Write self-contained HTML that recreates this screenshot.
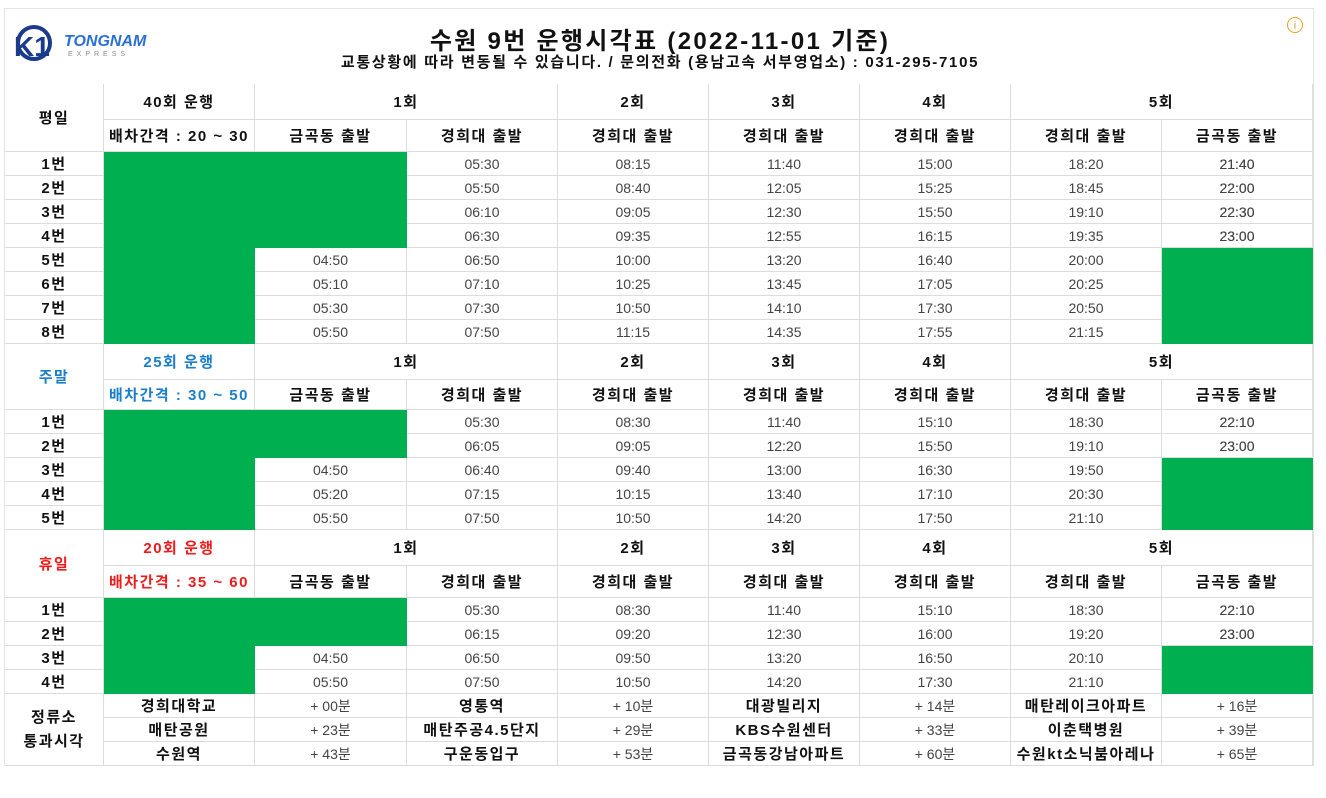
<!DOCTYPE html>
<html><head><meta charset="utf-8">
<style>
body{margin:0;width:1326px;height:798px;background:#fff;position:relative;overflow:hidden;font-family:"Liberation Sans","Noto Sans CJK KR",sans-serif;}
.c{position:absolute;box-sizing:border-box;border-right:1px solid #dcdcdc;border-bottom:1px solid #dcdcdc;display:flex;align-items:center;justify-content:center;font-size:14px;color:#444;}
.b{font-weight:bold;color:#111;font-size:15px;letter-spacing:1.5px}
.g{background:#00b050;border-color:#00b050}
#frame{position:absolute;left:4px;top:8px;width:1310px;height:758px;border:1px solid #e4e4e4;box-sizing:border-box}
</style></head><body>
<div id="frame"></div>
<div style="position:absolute;left:12px;top:24px;width:160px;height:40px">
<svg width="160" height="40"><circle cx="22" cy="19" r="16" fill="none" stroke="#1a3a8a" stroke-width="4"/><text x="2" y="32" font-size="28" font-weight="bold" fill="#1a3a8a" font-family="Liberation Sans">K1</text><text x="52" y="22" font-size="16" font-weight="bold" font-style="italic" fill="#2a6fd6" font-family="Liberation Sans">TONGNAM</text><text x="56" y="32" font-size="7" fill="#888" letter-spacing="4" font-family="Liberation Sans">EXPRESS</text></svg></div>
<div style="position:absolute;left:0;width:1320px;top:21px;text-align:center;font-size:24px;font-weight:bold;color:#111;letter-spacing:2.3px">수원 9번 운행시각표 (2022-11-01 기준)</div>
<div style="position:absolute;left:0;width:1320px;top:51px;text-align:center;font-size:15px;font-weight:bold;color:#111;letter-spacing:1.7px">교통상황에 따라 변동될 수 있습니다. / 문의전화 (용남고속 서부영업소) : 031-295-7105</div>
<div style="position:absolute;left:1287px;top:17px;width:16px;height:16px;border:1.5px solid #e8a020;border-radius:50%;color:#e8a020;font-size:11px;text-align:center;line-height:16px;box-sizing:border-box">i</div>
<div id="t"></div>
<script>
const X=[5,104,255,407,558,709,860,1011,1162,1313];
const weekday=[["05:30","08:15","11:40","15:00","18:20","21:40"],["05:50","08:40","12:05","15:25","18:45","22:00"],["06:10","09:05","12:30","15:50","19:10","22:30"],["06:30","09:35","12:55","16:15","19:35","23:00"],["04:50","06:50","10:00","13:20","16:40","20:00"],["05:10","07:10","10:25","13:45","17:05","20:25"],["05:30","07:30","10:50","14:10","17:30","20:50"],["05:50","07:50","11:15","14:35","17:55","21:15"]];
const weekend=[["05:30","08:30","11:40","15:10","18:30","22:10"],["06:05","09:05","12:20","15:50","19:10","23:00"],["04:50","06:40","09:40","13:00","16:30","19:50"],["05:20","07:15","10:15","13:40","17:10","20:30"],["05:50","07:50","10:50","14:20","17:50","21:10"]];
const holiday=[["05:30","08:30","11:40","15:10","18:30","22:10"],["06:15","09:20","12:30","16:00","19:20","23:00"],["04:50","06:50","09:50","13:20","16:50","20:10"],["05:50","07:50","10:50","14:20","17:30","21:10"]];
const stops=[["경희대학교","+ 00분","영통역","+ 10분","대광빌리지","+ 14분","매탄레이크아파트","+ 16분"],["매탄공원","+ 23분","매탄주공4.5단지","+ 29분","KBS수원센터","+ 33분","이춘택병원","+ 39분"],["수원역","+ 43분","구운동입구","+ 53분","금곡동강남아파트","+ 60분","수원kt소닉붐아레나","+ 65분"]];
const T=document.getElementById('t');
function cell(c0,c1,y0,y1,txt,cls,col,name){const d=document.createElement('div');d.className='c '+(cls||'');


d.style.left=X[c0]+'px';d.style.width=(X[c1]-X[c0])+'px';d.style.top=y0+'px';d.style.height=(y1-y0)+'px';if(col)d.style.color=col;if(txt)d.textContent=txt;T.appendChild(d);}
function section(y,rows,label,runs,gap,col,name,twoRowGreenCol2){
 const h1=y+36,h2=h1+(name==='weekend'?30:32);
 cell(0,1,y,h2,label,'b',col,name+'-label');
 cell(1,2,y,h1,runs,'b',col,name+'-runs');
 cell(1,2,h1,h2,gap,'b',col,name+'-interval');
 cell(2,4,y,h1,'1회','b',null,'trip-1-header');cell(4,5,y,h1,'2회','b',null,'trip-2-header');cell(5,6,y,h1,'3회','b',null,'trip-3-header');cell(6,7,y,h1,'4회','b',null,'trip-4-header');cell(7,9,y,h1,'5회','b',null,'trip-5-header');
 const hd=['금곡동 출발','경희대 출발','경희대 출발','경희대 출발','경희대 출발','경희대 출발','금곡동 출발'];
 hd.forEach((t,i)=>cell(i+2,i+3,h1,h2,t,'b',null,'departure-header'));
 const n=rows.length;let yy=h2;
 rows.forEach((r,i)=>{const y1=yy+24;
  cell(0,1,yy,y1,(i+1)+'번','b',null,'bus-number');
  const top=i<twoRowGreenCol2;
  if(top){cell(3,4,yy,y1,r[0],'',null,'time');for(let k=1;k<6;k++)cell(k+3,k+4,yy,y1,r[k],'',null,'time');cell(8,9,yy,y1,r[5],'',null,'time');}
  else{for(let k=0;k<6;k++)cell(k+2,k+3,yy,y1,r[k],'',null,'time');}
  yy=y1;});
 cell(1,2,h2,yy,'','g',null,'no-service-block');
 cell(2,3,h2,h2+24*twoRowGreenCol2,'','g',null,'no-service-block');
 if(twoRowGreenCol2<n)cell(8,9,h2+24*twoRowGreenCol2,yy,'','g',null,'no-service-block');
 return yy;}
let y=section(84,weekday,'평일','40회 운행','배차간격 : 20 ~ 30',null,'weekday',4);
y=section(y,weekend,'주말','25회 운행','배차간격 : 30 ~ 50','#1a7fc8','weekend',2);
y=section(y,holiday,'휴일','20회 운행','배차간격 : 35 ~ 60','#ee1c1c','holiday',2);
cell(0,1,y,y+72,'','',null,'stops-label');
const L=T.lastChild;L.innerHTML='<span style="text-align:center;line-height:24px;font-weight:bold;color:#111;font-size:15px;letter-spacing:1.5px">정류소<br>통과시각</span>';
stops.forEach((r,i)=>{r.forEach((t,k)=>cell(k+1,k+2,y+24*i,y+24*i+24,t,k%2?'':'b',null,k%2?'stop-offset':'stop-name'));});
</script>
</body></html>
